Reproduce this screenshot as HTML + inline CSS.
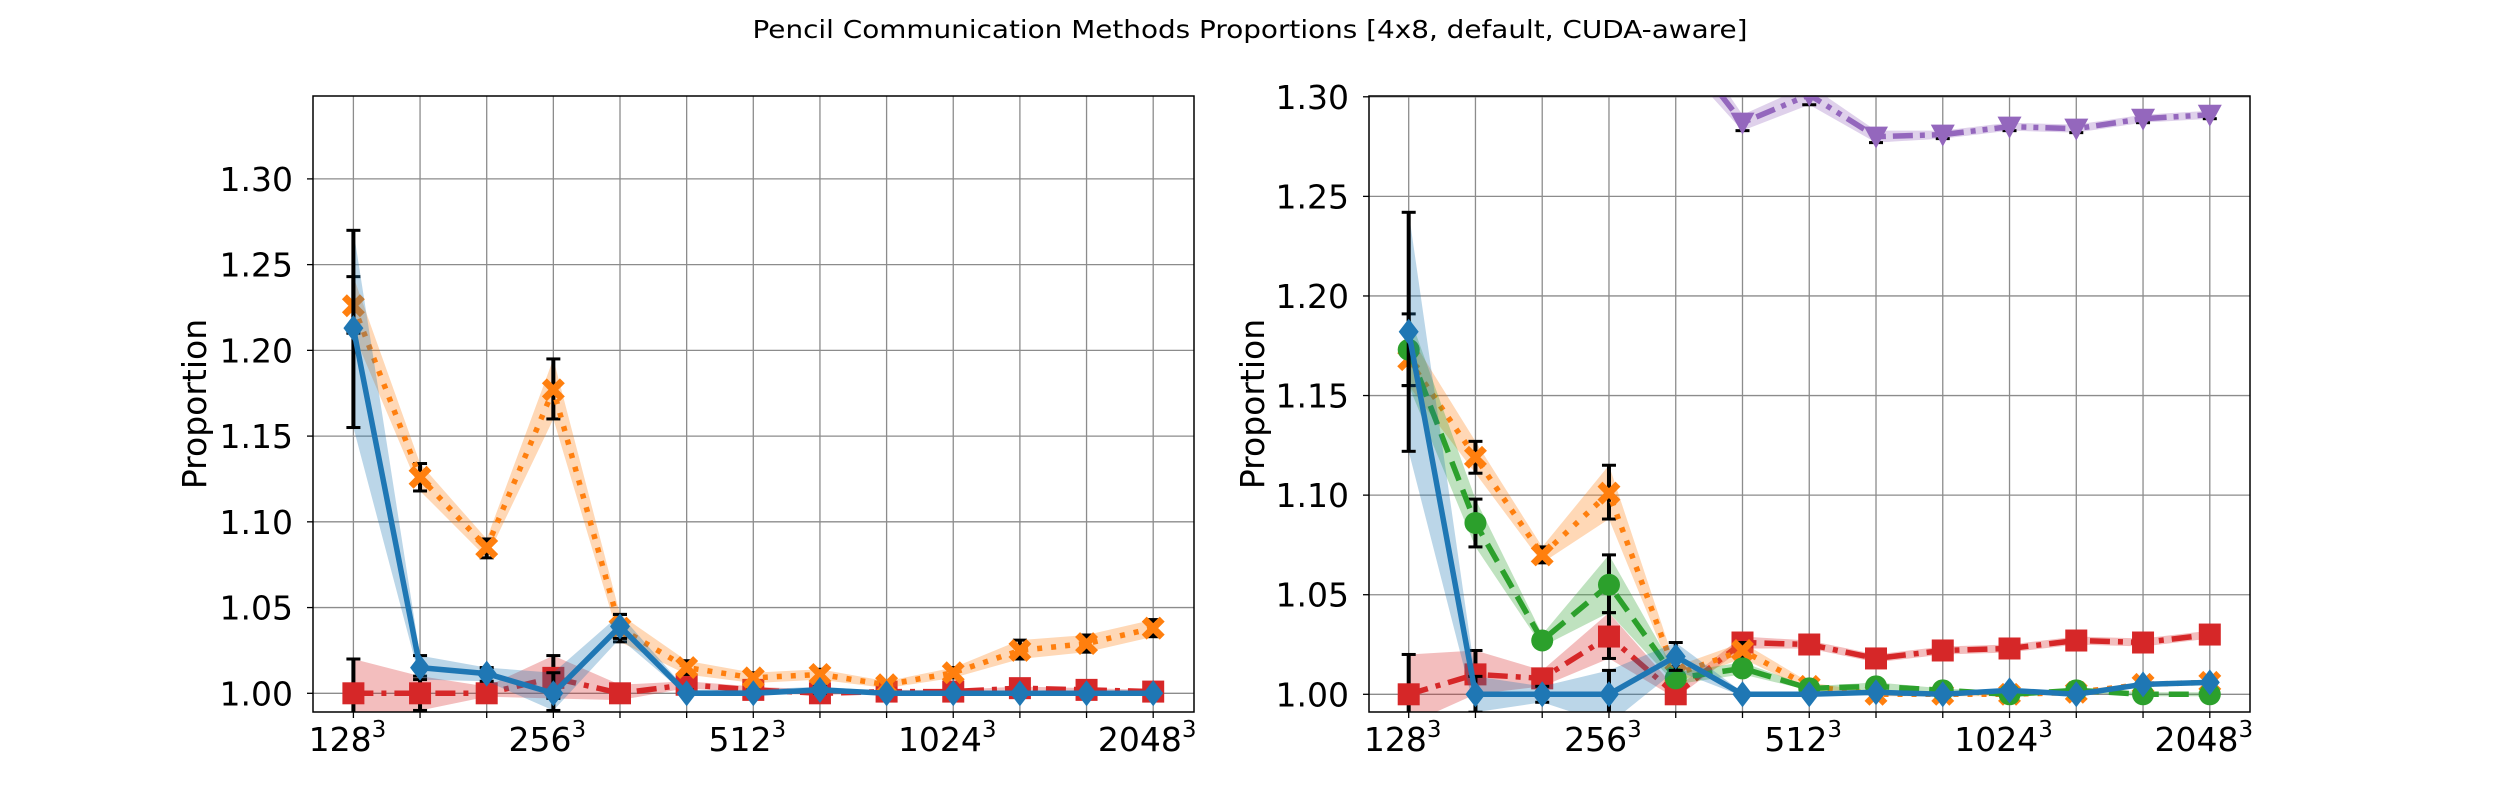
<!DOCTYPE html>
<html><head><meta charset="utf-8"><style>
html,body{margin:0;padding:0;background:#fff;}
svg{display:block;font-family:"DejaVu Sans","Liberation Sans",sans-serif;}
</style></head><body>
<svg id="fig" width="2500" height="800" viewBox="0 0 2500 800">
<text x="1250" y="38" text-anchor="middle" font-size="25" textLength="995" lengthAdjust="spacingAndGlyphs">Pencil Communication Methods Proportions [4x8, default, CUDA-aware]</text>
</svg>
<script>
const categories = ["128","","","256","","","512","","","1024","","","2048"];
const yTicks = [1.00,1.05,1.10,1.15,1.20,1.25,1.30];
// Left panel
const L_blue = [1.213,1.015,1.0115,1.000,1.039,1.000,1.000,1.002,1.000,1.000,1.000,1.000,1.000];
const L_blueLo = [1.155,1.008,1.007,0.990,1.032,0.999,0.999,1.000,0.999,0.999,0.999,0.999,0.999];
const L_blueHi = [1.270,1.022,1.015,1.012,1.046,1.002,1.002,1.004,1.001,1.001,1.001,1.001,1.001];
const L_orange = [1.226,1.126,1.085,1.177,1.038,1.015,1.009,1.011,1.005,1.012,1.025,1.029,1.038];
const L_orangeLo = [1.210,1.118,1.079,1.160,1.030,1.011,1.006,1.008,1.003,1.009,1.020,1.024,1.033];
const L_orangeHi = [1.243,1.134,1.090,1.195,1.046,1.019,1.012,1.014,1.007,1.015,1.031,1.034,1.043];
const L_red = [1.000,1.000,1.000,1.009,1.000,1.005,1.002,1.000,1.001,1.001,1.003,1.002,1.001];
const L_redLo = [0.982,0.990,0.998,0.997,0.996,1.003,1.000,0.999,1.000,1.000,1.002,1.001,1.000];
const L_redHi = [1.020,1.010,1.004,1.022,1.005,1.007,1.004,1.002,1.002,1.002,1.004,1.003,1.002];
// Right panel
const R_blue = [1.182,1.000,1.000,1.000,1.019,1.000,1.000,1.001,1.000,1.002,1.000,1.005,1.006];
const R_blueLo = [1.122,0.991,0.996,0.985,1.012,0.999,0.999,1.000,0.999,1.001,0.999,1.004,1.005];
const R_blueHi = [1.242,1.009,1.004,1.012,1.026,1.001,1.001,1.002,1.001,1.003,1.001,1.006,1.007];
const R_orange = [1.168,1.119,1.070,1.101,1.010,1.022,1.004,1.000,1.000,1.000,1.001,1.005,1.006];
const R_orangeLo = [1.155,1.111,1.066,1.088,1.006,1.018,1.002,0.999,0.999,0.999,1.000,1.004,1.005];
const R_orangeHi = [1.181,1.127,1.074,1.115,1.014,1.026,1.006,1.001,1.001,1.001,1.002,1.006,1.007];
const R_green = [1.173,1.086,1.027,1.055,1.008,1.013,1.003,1.004,1.002,1.000,1.002,1.000,1.000];
const R_greenLo = [1.155,1.074,1.024,1.041,1.005,1.010,1.002,1.002,1.001,0.999,1.001,0.999,0.999];
const R_greenHi = [1.191,1.098,1.030,1.070,1.011,1.016,1.004,1.006,1.003,1.001,1.003,1.001,1.001];
const R_red = [1.000,1.010,1.008,1.029,1.000,1.026,1.025,1.018,1.022,1.023,1.027,1.026,1.030];
const R_redLo = [0.985,1.000,1.004,1.018,0.998,1.023,1.023,1.016,1.020,1.021,1.025,1.024,1.028];
const R_redHi = [1.020,1.022,1.012,1.041,1.003,1.029,1.027,1.020,1.024,1.025,1.029,1.028,1.032];
const R_purple = [1.500,1.450,1.400,1.380,1.330,1.287,1.301,1.280,1.281,1.285,1.284,1.289,1.291];
const R_purpleLo = [1.480,1.430,1.385,1.365,1.320,1.283,1.296,1.277,1.279,1.283,1.282,1.287,1.289];
const R_purpleHi = [1.520,1.470,1.415,1.395,1.340,1.291,1.306,1.283,1.283,1.287,1.286,1.291,1.293];

const NS="http://www.w3.org/2000/svg";
const fig=document.getElementById('fig');
function mk(tag,attrs,parent){const e=document.createElementNS(NS,tag);for(const k in attrs)e.setAttribute(k,attrs[k]);(parent||fig).appendChild(e);return e;}

function panel(p){
  const g=mk('g',{});
  
  
  const xs=i=>p.x0+i*(p.x1-p.x0)/(categories.length-1);
  const ys=v=>p.yb-(v-p.vb)*p.k;
  const cid='clip-'+p.name;
  const cp=mk('clipPath',{id:cid},g);mk('rect',{x:p.left,y:p.top,width:p.right-p.left,height:p.bottom-p.top},cp);
  categories.forEach((c,i)=>{
    const l=mk('line',{x1:xs(i),x2:xs(i),y1:p.top,y2:p.bottom,stroke:'#8c8c8c','stroke-width':1.3},g);
    
    
    const t=mk('line',{x1:xs(i),x2:xs(i),y1:p.bottom,y2:p.bottom+6,stroke:'#000','stroke-width':1.3},g);
    
    
    if(c){
      const tx=mk('text',{x:xs(i)-6,y:p.bottom+39,'text-anchor':'middle','font-size':33},g);
      
      
      tx.textContent=c;
      const sp=mk('tspan',{'font-size':23,dy:-14},tx);sp.textContent='3';
    }
  });
  yTicks.forEach(v=>{
    const y=ys(v); if(y<p.top-1)return;
    const l=mk('line',{x1:p.left,x2:p.right,y1:y,y2:y,stroke:'#8c8c8c','stroke-width':1.3},g);
    
    
    mk('line',{x1:p.left-6,x2:p.left,y1:y,y2:y,stroke:'#000','stroke-width':1.3},g);
    const t=mk('text',{x:p.left-20,y:y+12,'text-anchor':'end','font-size':33},g);
    
    
    t.textContent=v.toFixed(2);
  });
  const yl=mk('text',{x:0,y:0,'text-anchor':'middle','font-size':33,transform:`translate(${p.ylx},${(p.top+p.bottom)/2}) rotate(-90)`},g);
  
  
  yl.textContent='Proportion';
  const cg=mk('g',{'clip-path':`url(#${cid})`},g);
  p.series.forEach(s=>{
    const sg=mk('g',{},cg);
    
    
    let d='';s.hi.forEach((v,i)=>d+=(i?'L':'M')+xs(i)+' '+ys(v));
    for(let i=s.lo.length-1;i>=0;i--)d+='L'+xs(i)+' '+ys(s.lo[i]);
    const band=mk('path',{d:d+'Z',fill:s.c,'fill-opacity':0.3,stroke:'none'},sg);
    
    
    s.v.forEach((v,i)=>{
      const x=xs(i);
      const eb=mk('g',{stroke:'#000','stroke-width':3},sg);
      
      
      mk('line',{x1:x,x2:x,y1:ys(s.lo[i]),y2:ys(s.hi[i]),'stroke-width':4},eb);
      mk('line',{x1:x-7,x2:x+7,y1:ys(s.lo[i]),y2:ys(s.lo[i])},eb);
      mk('line',{x1:x-7,x2:x+7,y1:ys(s.hi[i]),y2:ys(s.hi[i])},eb);
    });
    let ld='';s.v.forEach((v,i)=>ld+=(i?'L':'M')+xs(i)+' '+ys(v));
    const ln=mk('path',{d:ld,fill:'none',stroke:s.c,'stroke-width':5.5,'stroke-dasharray':s.dash,'stroke-linejoin':'round'},sg);
    
    
    s.v.forEach((v,i)=>{
      const x=xs(i),y=ys(v);let m;
      if(s.m==='D')m=mk('path',{d:`M${x} ${y-13}L${x+10} ${y}L${x} ${y+13}L${x-10} ${y}Z`,fill:s.c},sg);
      else if(s.m==='s')m=mk('rect',{x:x-11,y:y-11,width:22,height:22,fill:s.c},sg);
      else if(s.m==='o')m=mk('circle',{cx:x,cy:y,r:11,fill:s.c},sg);
      else if(s.m==='v')m=mk('path',{d:`M${x-12} ${y-10}L${x+12} ${y-10}L${x} ${y+12}Z`,fill:s.c},sg);
      else m=mk('path',{d:`M${x-9} ${y-9}L${x+9} ${y+9}M${x+9} ${y-9}L${x-9} ${y+9}`,stroke:s.c,'stroke-width':7},sg);
      
      
    });
  });
  const fr=mk('rect',{x:p.left,y:p.top,width:p.right-p.left,height:p.bottom-p.top,fill:'none',stroke:'#000','stroke-width':1.5},g);
  
  
}
const dot='5 9', dd='20 8 5 8', dash='20 10', ddd='20 7 5 7 5 7';
panel({name:'left-panel',left:313,right:1194,top:96,bottom:712,x0:353.4,x1:1153.2,yb:693.3,vb:1.0,k:1714.7,ylx:206,
  series:[
    {id:'red',c:'#d62728',v:L_red,lo:L_redLo,hi:L_redHi,m:'s',dash:dd},
    {id:'orange',c:'#ff7f0e',v:L_orange,lo:L_orangeLo,hi:L_orangeHi,m:'x',dash:dot},
    {id:'blue',c:'#1f77b4',v:L_blue,lo:L_blueLo,hi:L_blueHi,m:'D',dash:'none'}
  ]});
panel({name:'right-panel',left:1369,right:2250,top:96,bottom:712,x0:1408.7,x1:2209.8,yb:694.3,vb:1.0,k:1991.7,ylx:1264,
  series:[
    {id:'purple',c:'#9467bd',v:R_purple,lo:R_purpleLo,hi:R_purpleHi,m:'v',dash:ddd},
    {id:'red',c:'#d62728',v:R_red,lo:R_redLo,hi:R_redHi,m:'s',dash:dd},
    {id:'orange',c:'#ff7f0e',v:R_orange,lo:R_orangeLo,hi:R_orangeHi,m:'x',dash:dot},
    {id:'green',c:'#2ca02c',v:R_green,lo:R_greenLo,hi:R_greenHi,m:'o',dash:dash},
    {id:'blue',c:'#1f77b4',v:R_blue,lo:R_blueLo,hi:R_blueHi,m:'D',dash:'none'}
  ]});
</script>
</body></html>
